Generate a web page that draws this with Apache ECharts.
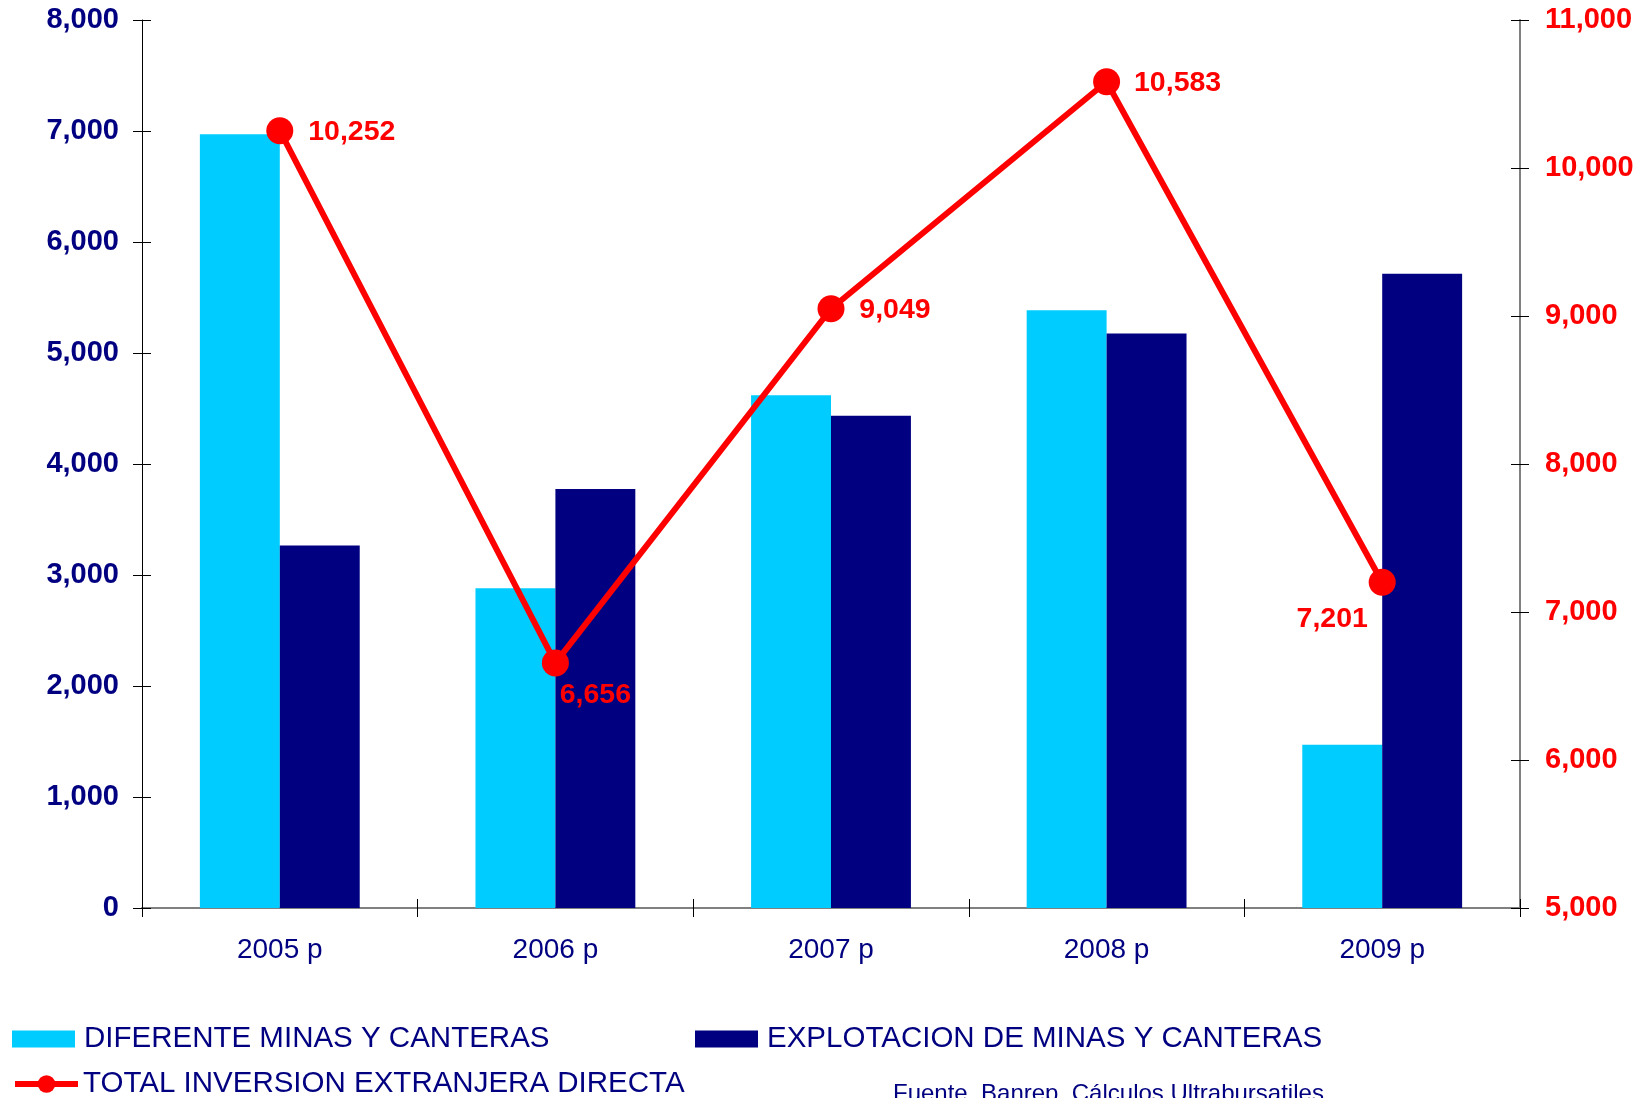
<!DOCTYPE html>
<html>
<head>
<meta charset="utf-8">
<title>Inversion extranjera directa</title>
<script src="https://cdn.jsdelivr.net/npm/echarts@6/dist/echarts.min.js"></script>
<style>
  html, body { margin: 0; padding: 0; background: #fff; }
  #chart { width: 1638px; height: 1098px; }
</style>
</head>
<body>
<div id="chart"></div>
<script>
// data
var years = ['2005 p', '2006 p', '2007 p', '2008 p', '2009 p'];
var diferente = [6970, 2880, 4620, 5385, 1470];
var explotacion = [3265, 3775, 4435, 5175, 5715];
var totalIed = [10252, 6656, 9049, 10583, 7201];
var labelOffsets = [[72, 1], [40, 32], [64, 1], [71, 1], [-50, 37]];

var NAVY = '#000080';
var CYAN = '#00ccff';
var RED = '#ff0000';
var FONT = '"Liberation Sans", Arial, sans-serif';

function fmt(v) {
  return String(v).replace(/\B(?=(\d{3})+(?!\d))/g, ',');
}

var chart = echarts.init(document.getElementById('chart'));

var legendText = { color: NAVY, fontSize: 29.5, fontFamily: FONT, padding: [0, 0, 0, 4] };

chart.setOption({
  animation: false,
  grid: { left: 142, right: 118, top: 20, bottom: 190, containLabel: false },
  legend: [
    {
      data: [{ name: 'DIFERENTE MINAS Y CANTERAS', icon: 'rect' }],
      left: 12, top: 1024, padding: 0,
      itemWidth: 63, itemHeight: 17,
      textStyle: legendText
    },
    {
      data: [{ name: 'EXPLOTACION DE MINAS Y CANTERAS', icon: 'rect' }],
      left: 695, top: 1024, padding: 0,
      itemWidth: 63, itemHeight: 17,
      textStyle: legendText
    },
    {
      data: ['TOTAL INVERSION EXTRANJERA DIRECTA'],
      left: 12, top: 1069, padding: 0,
      itemWidth: 63, itemHeight: 22,
      lineStyle: { width: 6 },
      textStyle: { color: NAVY, fontSize: 29.5, fontFamily: FONT, padding: [0, 0, 0, 0] }
    }
  ],
  graphic: [
    {
      type: 'text',
      left: 893, top: 1082,
      style: {
        text: 'Fuente. Banrep. Cálculos Ultrabursatiles',
        fill: NAVY, fontSize: 24, fontFamily: FONT
      }
    }
  ],
  xAxis: [
    {
      type: 'category',
      data: years,
      position: 'bottom',
      boundaryGap: true,
      axisLine: { lineStyle: { color: '#808080', width: 2 } },
      axisTick: { show: true, length: 9, lineStyle: { color: '#000' } },
      axisLabel: { color: NAVY, fontSize: 28, fontFamily: FONT, margin: 28 },
      splitLine: { show: false }
    },
    {
      type: 'category',
      data: years,
      position: 'bottom',
      boundaryGap: true,
      axisLine: { show: false },
      axisTick: { show: true, inside: true, length: 9, lineStyle: { color: '#000' } },
      axisLabel: { show: false },
      splitLine: { show: false }
    }
  ],
  yAxis: [
    {
      type: 'value',
      position: 'left',
      min: 0, max: 8000, interval: 1000,
      axisLine: { show: true, lineStyle: { color: '#000', width: 1 } },
      axisTick: { show: true, length: 9, lineStyle: { color: '#000' } },
      axisLabel: { color: NAVY, fontSize: 29, fontWeight: 'bold', fontFamily: FONT, margin: 23, formatter: fmt },
      splitLine: { show: false }
    },
    {
      type: 'value',
      position: 'right',
      min: 5000, max: 11000, interval: 1000,
      axisLine: { show: true, lineStyle: { color: '#808080', width: 2 } },
      axisTick: { show: true, length: 9, lineStyle: { color: '#000' } },
      axisLabel: { color: RED, fontSize: 29, fontWeight: 'bold', fontFamily: FONT, margin: 25, formatter: fmt },
      splitLine: { show: false }
    },
    {
      type: 'value',
      position: 'left',
      min: 0, max: 8000, interval: 1000,
      axisLine: { show: false },
      axisTick: { show: true, inside: true, length: 9, lineStyle: { color: '#000' } },
      axisLabel: { show: false },
      splitLine: { show: false }
    },
    {
      type: 'value',
      position: 'right',
      min: 5000, max: 11000, interval: 1000,
      axisLine: { show: false },
      axisTick: { show: true, inside: true, length: 9, lineStyle: { color: '#000' } },
      axisLabel: { show: false },
      splitLine: { show: false }
    }
  ],
  series: [
    {
      name: 'DIFERENTE MINAS Y CANTERAS',
      type: 'bar',
      yAxisIndex: 0,
      barGap: 0,
      barCategoryGap: '42%',
      itemStyle: { color: CYAN },
      data: diferente
    },
    {
      name: 'EXPLOTACION DE MINAS Y CANTERAS',
      type: 'bar',
      yAxisIndex: 0,
      barGap: 0,
      barCategoryGap: '42%',
      itemStyle: { color: NAVY },
      data: explotacion
    },
    {
      name: 'TOTAL INVERSION EXTRANJERA DIRECTA',
      type: 'line',
      yAxisIndex: 1,
      symbol: 'circle',
      symbolSize: 27,
      z: 5,
      lineStyle: { color: RED, width: 6 },
      itemStyle: { color: RED },
      data: totalIed.map(function (v, i) {
        return {
          value: v,
          label: {
            show: true,
            position: 'inside',
            offset: labelOffsets[i],
            formatter: fmt(v),
            color: RED,
            fontSize: 28.5,
            fontWeight: 'bold',
            fontFamily: FONT
          }
        };
      })
    }
  ]
});
</script>
</body>
</html>
